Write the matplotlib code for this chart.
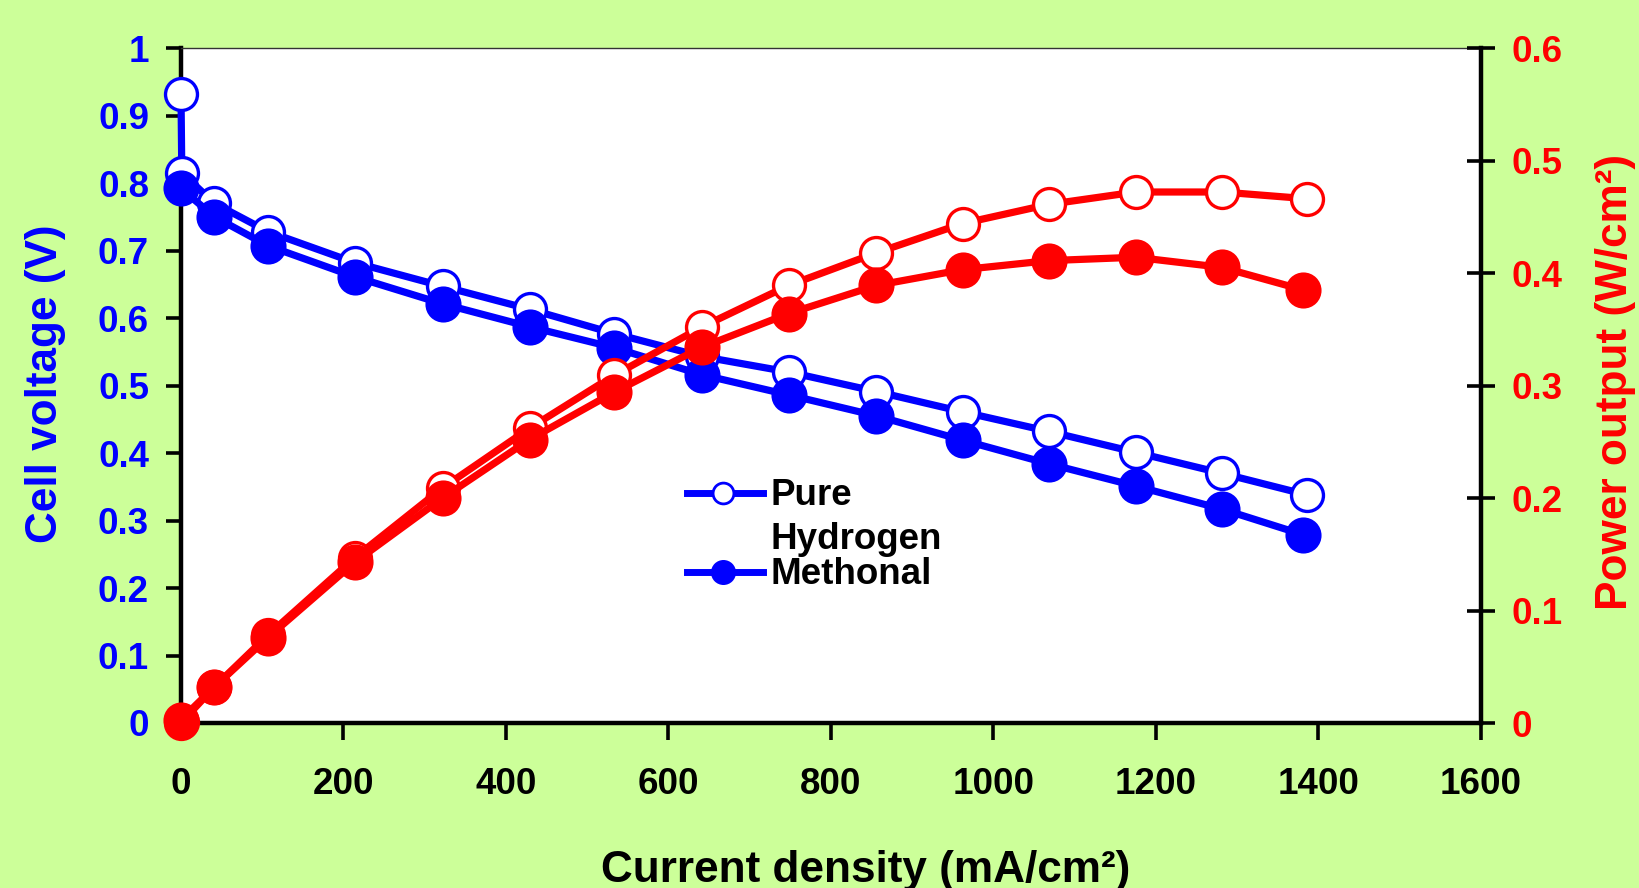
import matplotlib
matplotlib.use("Agg")
import matplotlib.pyplot as plt
from matplotlib.lines import Line2D

plt.rcParams['font.family'] = ['Liberation Sans', 'DejaVu Sans']
plt.rcParams['font.weight'] = 'bold'

# ---- data ----
x_h2 = [0, 1, 41, 107, 214, 322, 429, 533, 641, 748, 856, 962, 1068, 1175, 1281, 1386]
v_h2 = [0.932, 0.815, 0.770, 0.728, 0.682, 0.647, 0.613, 0.577, 0.543, 0.520, 0.491, 0.461, 0.432, 0.401, 0.370, 0.338]
p_h2 = [0.000, 0.001, 0.032, 0.078, 0.147, 0.209, 0.262, 0.309, 0.352, 0.389, 0.418, 0.444, 0.461, 0.472, 0.472, 0.466]

x_me = [0, 41, 107, 214, 322, 429, 533, 641, 748, 856, 962, 1068, 1175, 1281, 1381]
v_me = [0.792, 0.750, 0.707, 0.661, 0.621, 0.587, 0.556, 0.516, 0.486, 0.455, 0.419, 0.384, 0.351, 0.317, 0.279]
p_me = [0.003, 0.032, 0.076, 0.143, 0.200, 0.252, 0.294, 0.334, 0.364, 0.389, 0.403, 0.411, 0.414, 0.405, 0.385]

x_ticks = [0, 200, 400, 600, 800, 1000, 1200, 1400, 1600]
v_ticks = [0, 0.1, 0.2, 0.3, 0.4, 0.5, 0.6, 0.7, 0.8, 0.9, 1]
v_ticklabels = ['0', '0.1', '0.2', '0.3', '0.4', '0.5', '0.6', '0.7', '0.8', '0.9', '1']
p_ticks = [0, 0.1, 0.2, 0.3, 0.4, 0.5, 0.6]
p_ticklabels = ['0', '0.1', '0.2', '0.3', '0.4', '0.5', '0.6']

BLUE = '#0000FF'
RED = '#FF0000'
BG = '#CCFF99'

W, H = 1640, 888
fig = plt.figure(figsize=(W / 100, H / 100), dpi=100, facecolor=BG)
ax = fig.add_axes([181 / W, 1 - 723 / H, 1300 / W, 675 / H])
ax.set_facecolor('white')

LW = 5.2
ax.plot(x_h2, v_h2, color=BLUE, lw=LW, marker='o', ms=23, mfc='white', mec=BLUE,
        mew=2.4, clip_on=False, zorder=3)
ax.plot(x_me, v_me, color=BLUE, lw=LW, marker='o', ms=24, mfc=BLUE, mec=BLUE,
        mew=2, clip_on=False, zorder=4)

ax.set_xlim(0, 1600)
ax.set_ylim(0, 1)
ax.set_xticks(x_ticks)
ax.set_xticklabels([str(t) for t in x_ticks])
ax.set_yticks(v_ticks)
ax.set_yticklabels(v_ticklabels)

for s in ['left', 'bottom']:
    ax.spines[s].set_linewidth(3.2)
    ax.spines[s].set_color('black')
ax.spines['right'].set_visible(False)
ax.spines['top'].set_linewidth(1.0)
ax.spines['top'].set_color('#333333')

ax.tick_params(axis='y', direction='out', length=11, width=2.6, pad=12,
               labelsize=26.5, labelcolor=BLUE, color='black')
ax.tick_params(axis='x', direction='out', length=12, width=2.6, pad=20,
               labelsize=26.5, labelcolor='black', color='black')
for lab in ax.get_xticklabels() + ax.get_yticklabels():
    lab.set_fontweight('bold')

ax2 = ax.twinx()
ax2.plot(x_h2, p_h2, color=RED, lw=LW, marker='o', ms=23, mfc='white', mec=RED,
         mew=2.4, clip_on=False, zorder=3)
ax2.plot(x_me, p_me, color=RED, lw=LW, marker='o', ms=24, mfc=RED, mec=RED,
         mew=2, clip_on=False, zorder=4)
ax2.set_ylim(0, 0.6)
ax2.set_yticks(p_ticks)
ax2.set_yticklabels(p_ticklabels)
for s in ['left', 'bottom', 'top']:
    ax2.spines[s].set_visible(False)
ax2.spines['right'].set_linewidth(3.2)
ax2.spines['right'].set_color('black')
ax2.tick_params(axis='y', direction='inout', length=20, width=2.6, pad=12,
                labelsize=26.5, labelcolor=RED, color='black')
for lab in ax2.get_yticklabels():
    lab.set_fontweight('bold')

# axis titles
fig.text(46 / W, 1 - 384 / H, 'Cell voltage (V)', rotation=90, ha='center', va='center',
         fontsize=31.8, fontweight='bold', color=BLUE)
fig.text(1616 / W, 1 - 382 / H, 'Power output (W/cm²)', rotation=90, ha='center', va='center',
         fontsize=31.8, fontweight='bold', color=RED)
fig.text(866 / W, 1 - 882 / H, 'Current density (mA/cm²)', ha='center', va='baseline',
         fontsize=31.8, fontweight='bold', color='black')

# legend (manual, to reproduce wrapped label)
hx0, hx1, hm = (687 - 181) / 1300, (763 - 181) / 1300, (723 - 181) / 1300
tx = (771 - 181) / 1300
y_pure = (723 - 493) / 675
y_me = (723 - 572) / 675
ax.add_line(Line2D([hx0, hx1], [y_pure, y_pure], transform=ax.transAxes, color=BLUE, lw=5, zorder=5))
ax.add_line(Line2D([hm], [y_pure], transform=ax.transAxes, marker='o', ms=15, mfc='white',
                   mec=BLUE, mew=2, lw=0, zorder=6))
ax.add_line(Line2D([hx0, hx1], [y_me, y_me], transform=ax.transAxes, color=BLUE, lw=5, zorder=5))
ax.add_line(Line2D([hm], [y_me], transform=ax.transAxes, marker='o', ms=16, mfc=BLUE,
                   mec=BLUE, mew=2, lw=0, zorder=6))
ax.text(tx, (723 - 505) / 675, 'Pure', transform=ax.transAxes, ha='left', va='baseline',
        fontsize=26.5, fontweight='bold', color='black', zorder=7)
ax.text(tx, (723 - 549) / 675, 'Hydrogen', transform=ax.transAxes, ha='left', va='baseline',
        fontsize=26.5, fontweight='bold', color='black', zorder=7)
ax.text(tx, (723 - 584) / 675, 'Methonal', transform=ax.transAxes, ha='left', va='baseline',
        fontsize=26.5, fontweight='bold', color='black', zorder=7)

fig.savefig('out.png', dpi=100, facecolor=BG)
